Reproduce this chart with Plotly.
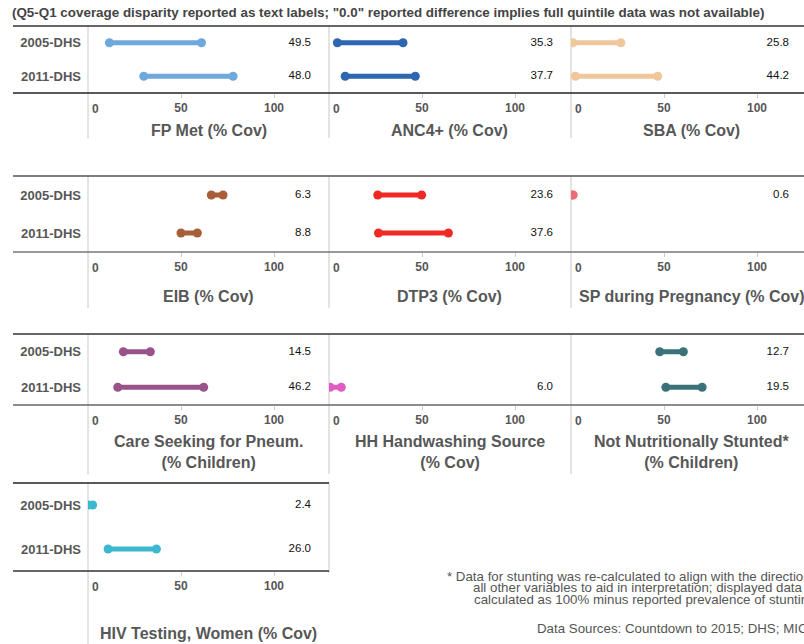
import plotly.graph_objects as go

# ---------------- data ----------------
surveys = ["2005-DHS", "2011-DHS"]
indicators = [
    "FP Met (% Cov)", "ANC4+ (% Cov)", "SBA (% Cov)",
    "EIB (% Cov)", "DTP3 (% Cov)", "SP during Pregnancy (% Cov)",
    "Care Seeking for Pneum.<br>(% Children)", "HH Handwashing Source<br>(% Cov)",
    "Not Nutritionally Stunted*<br>(% Children)",
    "HIV Testing, Women (% Cov)",
]
q1_2005 = [11.5, 4.5, 1.0, 66.3, 26.2, 0.6, 19.0, None, 47.7, 0.1]
q5_2005 = [61.0, 39.8, 26.8, 72.6, 49.8, 1.2, 33.5, None, 60.4, 2.5]
q1_2011 = [30.0, 8.7, 2.4, 50.0, 26.6, None, 16.0, 0.6, 51.0, 10.8]
q5_2011 = [78.0, 46.4, 46.6, 58.8, 64.2, None, 62.2, 6.6, 70.5, 36.8]
gap_2005 = ["49.5", "35.3", "25.8", "6.3", "23.6", "0.6", "14.5", "", "12.7", "2.4"]
gap_2011 = ["48.0", "37.7", "44.2", "8.8", "37.6", "", "46.2", "6.0", "19.5", "26.0"]
colors = ["#6fa8dc", "#2e66b0", "#efc79b", "#a85e38", "#ef2a24",
          "#ee6b78", "#98548a", "#e05bc2", "#3b727a", "#3cb9d0"]
tick_vals = [50, 100]

# ---------------- layout helpers ----------------
W, H = 804, 644
def px(x): return x / W
def py(y): return 1 - y / H

FONT = "Liberation Sans, Arial, sans-serif"
GRAY = "#575757"
col_left = [88, 329, 571]
col_right = [329, 571, 804]
SCALE = 1.86  # px per unit
rows = [(26, 93), (176, 252), (334, 405), (483, 571)]
title_y = [131, 296, 451.5, 633]
label_off = [223, 224, 218]  # px offset of value labels from panel left

fig = go.Figure()
annotations = []
shapes = []

for i, name in enumerate(indicators):
    r, c = divmod(i, 3)
    n = i + 1
    xa = f"x{n}" if n > 1 else "x"
    ya = f"y{n}" if n > 1 else "y"
    top, bot = rows[r]
    rng = (col_right[c] - col_left[c]) / SCALE
    for s, a, b in ((surveys[0], q1_2005[i], q5_2005[i]), (surveys[1], q1_2011[i], q5_2011[i])):
        if a is None:
            continue
        fig.add_trace(go.Scatter(
            x=[a, b], y=[s, s], mode="lines+markers", xaxis=xa, yaxis=ya,
            line=dict(color=colors[i], width=5), marker=dict(color=colors[i], size=9),
            showlegend=False, hoverinfo="x+y"))
    lx = label_off[c] / SCALE
    fig.add_trace(go.Scatter(
        x=[lx, lx], y=surveys, text=[gap_2005[i], gap_2011[i]], mode="text",
        textposition="middle left", textfont=dict(family=FONT, size=11.5, color="#111"),
        xaxis=xa, yaxis=ya, showlegend=False, hoverinfo="skip", cliponaxis=False))
    fig.layout[("xaxis" + (str(n) if n > 1 else ""))] = dict(
        domain=[px(col_left[c]), px(col_right[c])], range=[0, rng], anchor=ya,
        tickvals=tick_vals, ticks="outside", ticklen=4, tickcolor="#cccccc",
        tickfont=dict(family=FONT, size=12, color=GRAY, weight="bold"),
        showgrid=False, zeroline=False, showline=False, fixedrange=True)
    fig.layout[("yaxis" + (str(n) if n > 1 else ""))] = dict(
        domain=[py(bot), py(top)], anchor=xa, type="category",
        categoryarray=surveys, range=[1.5, -0.5],
        showticklabels=(c == 0), ticks="", ticklabelstandoff=6,
        tickfont=dict(family=FONT, size=13, color=GRAY, weight="bold"),
        showgrid=False, zeroline=False, showline=False, fixedrange=True)
    # "0" tick label shifted right of the panel edge
    annotations.append(dict(
        x=0, xref=xa, y=py(bot + 16), yref="paper", text="0", showarrow=False,
        xanchor="left", yanchor="middle", xshift=2,
        font=dict(family=FONT, size=12, color=GRAY, weight="bold")))
    # panel title
    annotations.append(dict(
        x=px((col_left[c] + col_left[c] + 241) / 2), xref="paper", y=py(title_y[r]), yref="paper",
        text=name, showarrow=False, xanchor="center", yanchor="middle",
        font=dict(family=FONT, size=16, color=GRAY, weight="bold")))

# frame lines
line_specs = [
    (26, 804, "#333333"), (93, 804, "#222222"),
    (176, 804, "#555555"), (252, 804, "#777777"),
    (334, 804, "#333333"), (405, 804, "#666666"),
    (483, 329, "#222222"), (571, 329, "#333333"),
]
for y, xr, col in line_specs:
    shapes.append(dict(type="line", xref="paper", yref="paper",
                       x0=px(13), x1=px(xr), y0=py(y), y1=py(y),
                       line=dict(color=col, width=1.5)))
vlines = [
    (88, 26, 138), (329, 26, 138), (571, 26, 138),
    (88, 176, 308), (329, 176, 308), (571, 176, 308),
    (88, 334, 474), (329, 334, 474), (571, 334, 474),
    (88, 483, 644), (329, 483, 573),
]
for x, y0, y1 in vlines:
    shapes.append(dict(type="line", xref="paper", yref="paper",
                       x0=px(x), x1=px(x), y0=py(y0), y1=py(y1),
                       line=dict(color="#c8c8c8", width=1), layer="below"))

# titles and notes
annotations.append(dict(
    x=px(10), y=py(2), xref="paper", yref="paper", xanchor="left", yanchor="bottom",
    text="Coverage Disparity by Wealth Quintile, Q5-Q1 Difference", showarrow=False,
    font=dict(family=FONT, size=18, color="#333", weight="bold")))
annotations.append(dict(
    x=px(10), y=py(12), xref="paper", yref="paper", xanchor="left", yanchor="middle",
    text="(Q5-Q1 coverage disparity reported as text labels; \"0.0\" reported difference implies full quintile data was not available)",
    showarrow=False, font=dict(family=FONT, size=13.4, color="#444", weight="bold")))
notes = [
    (445, 576, "* Data for stunting was re-calculated to align with the direction of"),
    (471, 587.5, "all other variables to aid in interpretation; displayed data was"),
    (472, 599, "calculated as 100% minus reported prevalence of stunting"),
    (535, 628, "Data Sources: Countdown to 2015; DHS; MICS"),
]
for x, y, t in notes:
    annotations.append(dict(
        x=px(x), y=py(y), xref="paper", yref="paper", xanchor="left", yanchor="middle",
        text=t, showarrow=False, font=dict(family=FONT, size=13.3, color="#555")))

fig.update_layout(
    width=W, height=H, margin=dict(l=0, r=0, t=0, b=0),
    paper_bgcolor="white", plot_bgcolor="rgba(0,0,0,0)",
    annotations=annotations, shapes=shapes, showlegend=False,
    font=dict(family=FONT))

fig.write_html(
    "out.html",
    config={"displayModeBar": False},
    post_script="document.body.style.margin='0';document.body.style.overflow='hidden';")
